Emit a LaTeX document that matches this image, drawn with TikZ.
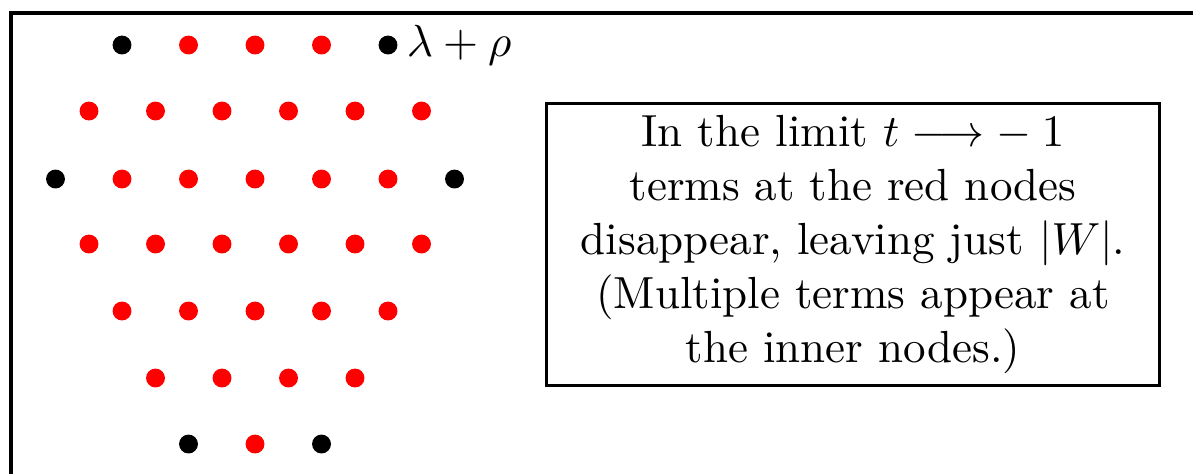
\documentclass[tikz,border=0pt]{standalone}
\begin{document}
\begin{tikzpicture}[x=0.2222pt,y=-0.2222pt,
  rdot/.style={circle,fill=red,inner sep=0pt,minimum size=4.2pt},
  bdot/.style={circle,fill=black,inner sep=0pt,minimum size=4.2pt},
  frame/.style={line width=0.68pt},
  infobox/.style={draw,line width=0.68pt,align=center,inner sep=0pt,minimum width=136.4pt,minimum height=62.7pt}]
\useasboundingbox (0,0) rectangle (1193,474);
\draw[frame] (11,474) -- (11,13) -- (1193,13);
% row 1
\node[bdot] (a1) at (122,45) {};
\node[rdot] (a2) at (188.5,45) {};
\node[rdot] (a3) at (255,45) {};
\node[rdot] (a4) at (321.5,45) {};
\node[bdot] (a5) at (388,45) {};
\node[anchor=west,inner sep=0pt] (lab) at (406,45) {$\lambda+\rho$};
% row 2
\foreach \i/\x in {1/89,2/155.5,3/222,4/288.5,5/355,6/421.5}
  \node[rdot] (b\i) at (\x,111) {};
% row 3
\node[bdot] (c1) at (55.5,179) {};
\foreach \i/\x in {2/122,3/188.5,4/255,5/321.5,6/388}
  \node[rdot] (c\i) at (\x,179) {};
\node[bdot] (c7) at (454.5,179) {};
% row 4
\foreach \i/\x in {1/89,2/155.5,3/222,4/288.5,5/355,6/421.5}
  \node[rdot] (d\i) at (\x,244) {};
% row 5
\foreach \i/\x in {1/122,2/188.5,3/255,4/321.5,5/388}
  \node[rdot] (e\i) at (\x,311) {};
% row 6
\foreach \i/\x in {1/155.5,2/222,3/288.5,4/355}
  \node[rdot] (f\i) at (\x,378) {};
% row 7
\node[bdot] (g1) at (188.5,444) {};
\node[rdot] (g2) at (255,444) {};
\node[bdot] (g3) at (321.5,444) {};
% text box
\node[infobox] (box) at (853,244.5) {In the limit $t\longrightarrow -\mskip\medmuskip 1$\\terms at the red nodes\\disappear, leaving just $|W|$.\\(Multiple terms appear at\\the inner nodes.)};
\end{tikzpicture}
\end{document}
